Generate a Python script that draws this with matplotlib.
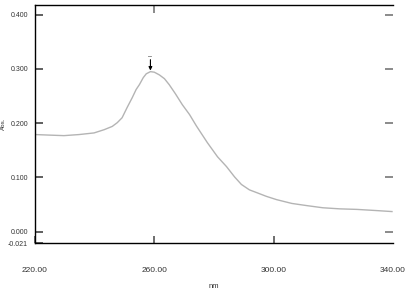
import matplotlib

matplotlib.use("Agg")
import matplotlib.pyplot as plt

plt.rcParams["font.family"] = ["Liberation Sans", "DejaVu Sans"]

# UV spectrum (wavelength nm, absorbance)
wavelength = [220.0, 224.7, 229.7, 234.8, 239.8, 243.2, 245.9, 247.6, 249.2,
              250.9, 252.6, 253.9, 255.0, 256.3, 257.3, 258.7, 260.0, 261.7,
              263.4, 265.0, 267.1, 269.4, 271.8, 274.1, 277.8, 281.2, 284.2,
              286.9, 289.2, 291.9, 294.3, 297.6, 301.0, 306.1, 311.1, 316.5,
              322.2, 327.9, 334.0, 339.7]
absorbance = [0.179, 0.178, 0.177, 0.179, 0.182, 0.188, 0.194, 0.201, 0.210,
              0.229, 0.247, 0.262, 0.271, 0.284, 0.291, 0.295, 0.294, 0.289,
              0.282, 0.271, 0.254, 0.234, 0.216, 0.195, 0.164, 0.138, 0.120,
              0.101, 0.087, 0.077, 0.072, 0.065, 0.059, 0.052, 0.048, 0.044,
              0.042, 0.041, 0.039, 0.037]
peak_nm = 258.7
peak_abs = 0.295

x_ticks = [220, 260, 300, 340]
y_ticks = [-0.021, 0.0, 0.1, 0.2, 0.3, 0.4]


def main() -> None:
    fig = plt.figure(figsize=(4.09, 2.90), dpi=100)
    ax = fig.add_axes([0.0856, 0.162, 0.875, 0.821])

    ax.plot(wavelength, absorbance, color="#b4b4b4", lw=1.0)
    ax.annotate("", xy=(peak_nm, peak_abs + 0.002), xytext=(peak_nm, peak_abs + 0.022),
                arrowprops=dict(arrowstyle="-|>", color="black", lw=0.8,
                                mutation_scale=5, shrinkA=0, shrinkB=0))
    ax.text(peak_nm, peak_abs + 0.028, "\u2013", ha="center", va="center",
            fontsize=5, color="#333333")

    ax.set_xlim(220, 340)
    ax.set_ylim(-0.021, 0.418)

    ax.set_xticks(x_ticks)
    ax.set_xticklabels([f"{v:.2f}" for v in x_ticks])
    ax.set_yticks(y_ticks)
    ax.set_yticklabels([f"{v:.3f}" for v in y_ticks])
    ax.tick_params(axis="x", direction="in", length=5, width=1.2, color="#555555",
                   pad=17, labelsize=6, labelcolor="#333333")
    ax.tick_params(axis="y", direction="in", length=6, width=1.2, color="#444444",
                   pad=5, labelsize=5, labelcolor="#333333")
    ax.xaxis.get_major_ticks()[-1].tick1line.set_visible(False)

    ax.spines["right"].set_visible(False)
    for side in ("left", "bottom", "top"):
        ax.spines[side].set_linewidth(1.0)
        ax.spines[side].set_color("black")

    top = ax.secondary_xaxis("top")
    top.set_xticks([260])
    top.set_xticklabels([])
    top.tick_params(direction="in", length=6, width=1.2, color="#777777")
    top.spines["top"].set_visible(False)

    right = ax.secondary_yaxis("right")
    right.set_yticks([0.0, 0.1, 0.2, 0.3, 0.4])
    right.set_yticklabels([])
    right.tick_params(direction="in", length=6, width=1.2, color="#777777")
    right.spines["right"].set_visible(False)

    fig.text(0.523, 0.0, "nm", ha="center", va="bottom", fontsize=5.5,
             color="#333333")
    fig.text(0.002, 0.575, "Abs.", ha="left", va="center", rotation=90,
             fontsize=4.5, color="#333333")

    fig.savefig("out.png", dpi=100)


if __name__ == "__main__":
    main()
